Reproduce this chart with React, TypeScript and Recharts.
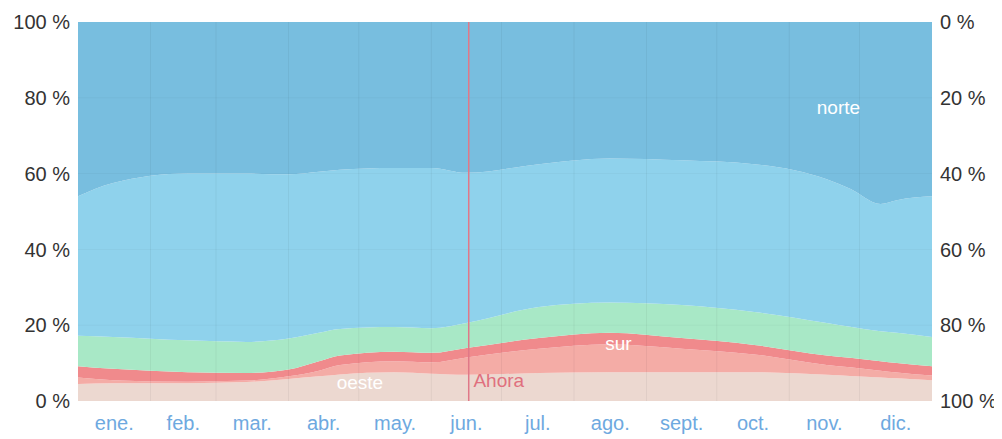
import React from "react";
import { AreaChart, Area, Line, XAxis, YAxis, ReferenceLine, ReferenceDot } from "recharts";

const days = [0, 15, 47, 72, 90, 103, 112, 135, 151, 166, 197, 227, 258, 289, 320, 330, 343, 350, 365];
const oeste = [4.5, 4.7, 4.7, 5.0, 5.8, 6.5, 7.0, 7.6, 7.2, 6.9, 7.4, 7.6, 7.6, 7.6, 6.9, 6.6, 6.2, 6.0, 5.5];
const suroeste = [1.7, 0.8, 0.4, 0.4, 0.7, 1.5, 2.5, 2.9, 3.0, 4.6, 6.4, 7.4, 6.2, 4.7, 2.6, 2.3, 1.8, 1.5, 1.2];
const sur = [3, 3, 2.5, 2, 1.8, 2.5, 2.5, 2.5, 2.5, 2.5, 2.8, 3, 2.8, 2.5, 2.5, 2.5, 2.5, 2.5, 2.5];
const sureste = [8.0, 8.4, 8.4, 8.2, 8.2, 7.5, 7.0, 6.5, 6.5, 6.6, 8.2, 8.0, 8.7, 8.7, 8.6, 8.2, 7.9, 8.0, 7.7];
const este = [36.8, 40.6, 44.0, 44.4, 43.3, 42.5, 42.0, 42.0, 42.3, 39.6, 37.7, 38.0, 38.2, 39.0, 37.9, 36.4, 33.6, 35.0, 37.1];
const norte = [46, 42.5, 40, 40, 40.2, 39.5, 39, 38.5, 38.5, 39.8, 37.5, 36, 36.5, 37.5, 41.5, 44, 48, 47, 46];

const monthTickDays = [15.5, 45, 74.5, 105, 135.5, 166, 196.5, 227.5, 258, 288.5, 319, 349.5];
const monthLabels = ["ene.", "feb.", "mar.", "abr.", "may.", "jun.", "jul.", "ago.", "sept.", "oct.", "nov.", "dic."];
const monthStartDays = [31, 59, 90, 120, 151, 181, 212, 243, 273, 304, 334];
const yTicks = [0, 20, 40, 60, 80, 100];
const nowDay = 167;

const data = days.map((d, i) => ({
  day: d,
  oeste: oeste[i],
  suroeste: suroeste[i],
  sur: sur[i],
  sureste: sureste[i],
  este: este[i],
  norte: norte[i],
}));

const font = "'Liberation Sans', Arial, sans-serif";

const makeLabel = (text: string, color: string, anchor: string = "middle") => (props: any) => {
  const vb = props.viewBox || {};
  const x = vb.x + (vb.width || 0) / 2;
  const y = vb.y + (vb.height || 0) / 2;
  return (
    <text x={x} y={y} dy={7} textAnchor={anchor} fill={color} fontSize={19} fontFamily={font}>
      {text}
    </text>
  );
};

export default function App() {
  return (
    <AreaChart
      width={994}
      height={431}
      data={data}
      margin={{ top: 14, right: 0, left: 0, bottom: 0 }}
    >
      <XAxis
        dataKey="day"
        type="number"
        domain={[0, 365]}
        ticks={monthTickDays}
        interval={0}
        tickFormatter={(v: number, i: number) => monthLabels[i]}
        tickLine={false}
        axisLine={false}
        tickSize={0}
        tickMargin={15}
        height={38}
        tick={{ fill: "#6ea9e0", fontSize: 20, fontFamily: font }}
      />
      <YAxis
        yAxisId="left"
        orientation="left"
        domain={[0, 100]}
        ticks={yTicks}
        interval={0}
        width={70}
        tickLine={false}
        axisLine={false}
        tickSize={0}
        tickMargin={8}
        tickFormatter={(v: number) => `${v} %`}
        tick={{ fill: "#333", fontSize: 20, fontFamily: font }}
      />
      <YAxis
        yAxisId="right"
        orientation="right"
        domain={[0, 100]}
        reversed
        ticks={yTicks}
        interval={0}
        width={70}
        tickLine={false}
        axisLine={false}
        tickSize={0}
        tickMargin={8}
        tickFormatter={(v: number) => `${v} %`}
        tick={{ fill: "#333", fontSize: 20, fontFamily: font }}
      />
      <Area yAxisId="left" type="monotone" dataKey="oeste" stackId="a" stroke="none" fill="#ecd8d0" fillOpacity={1} isAnimationActive={false} />
      <Area yAxisId="left" type="monotone" dataKey="suroeste" stackId="a" stroke="none" fill="#f4aca6" fillOpacity={1} isAnimationActive={false} />
      <Area yAxisId="left" type="monotone" dataKey="sur" stackId="a" stroke="none" fill="#f08a8c" fillOpacity={1} isAnimationActive={false} />
      <Area yAxisId="left" type="monotone" dataKey="sureste" stackId="a" stroke="none" fill="#a8e8c6" fillOpacity={1} isAnimationActive={false} />
      <Area yAxisId="left" type="monotone" dataKey="este" stackId="a" stroke="none" fill="#8fd2ec" fillOpacity={1} isAnimationActive={false} />
      <Area yAxisId="left" type="monotone" dataKey="norte" stackId="a" stroke="none" fill="#78bedf" fillOpacity={1} isAnimationActive={false} />
      <Line yAxisId="right" type="monotone" dataKey="norte" stroke="none" strokeWidth={0} dot={false} activeDot={false} legendType="none" isAnimationActive={false} />
      {monthStartDays.map((d) => (
        <ReferenceLine key={"m" + d} yAxisId="left" x={d} stroke="rgba(0,0,0,0.05)" strokeWidth={1} />
      ))}
      {[20, 40, 60, 80].map((v) => (
        <ReferenceLine key={"h" + v} yAxisId="left" y={v} stroke="rgba(0,0,0,0.03)" strokeWidth={1} />
      ))}
      <ReferenceLine
        yAxisId="left"
        x={nowDay}
        stroke="#e07888"
        strokeWidth={1.5}
      />
      <ReferenceDot yAxisId="left" x={nowDay + 2} y={5.5} r={0} stroke="none" fill="none" label={makeLabel("Ahora", "#e0707e", "start")} />
      <ReferenceDot yAxisId="left" x={325} y={77.6} r={0} stroke="none" fill="none" label={makeLabel("norte", "#ffffff")} />
      <ReferenceDot yAxisId="left" x={231} y={15.3} r={0} stroke="none" fill="none" label={makeLabel("sur", "#ffffff")} />
      <ReferenceDot yAxisId="left" x={120.5} y={5.0} r={0} stroke="none" fill="none" label={makeLabel("oeste", "#ffffff")} />
    </AreaChart>
  );
}
